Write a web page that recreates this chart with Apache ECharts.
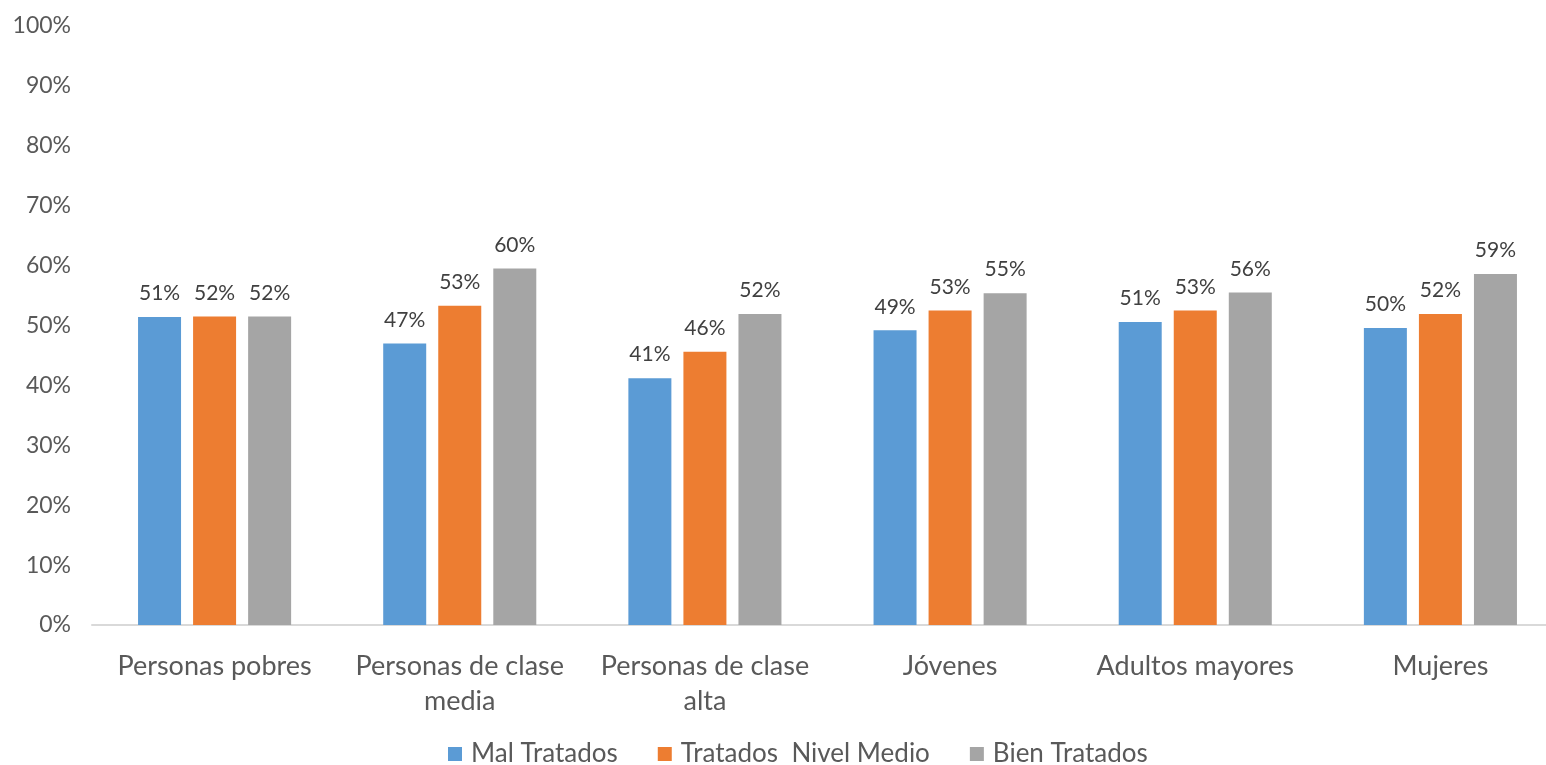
<!DOCTYPE html>
<html>
<head>
<meta charset="utf-8">
<script src="https://cdn.jsdelivr.net/npm/echarts@6/dist/echarts.min.js"></script>
<style>html,body{margin:0;padding:0;background:#fff;}#c{width:1546px;height:765px;}</style>
</head>
<body>
<div id="c"></div>
<script>
const categories = ['Personas pobres', 'Personas de clase\nmedia', 'Personas de clase\nalta', 'Jóvenes', 'Adultos mayores', 'Mujeres'];
const seriesNames = ['Mal Tratados', 'Tratados  Nivel Medio', 'Bien Tratados'];
const malTratados = [51.4, 47.0, 41.2, 49.2, 50.6, 49.6];
const nivelMedio = [51.5, 53.3, 45.6, 52.5, 52.5, 51.9];
const bienTratados = [51.5, 59.5, 51.9, 55.4, 55.5, 58.6];
const colors = ['#5B9BD5', '#ED7D31', '#A5A5A5'];
const FONT = 'Lato';

const chart = echarts.init(document.getElementById('c'), null, {renderer: 'canvas'});
function mk(name, data, color) {
  return {
    name: name, type: 'bar', data: data, barWidth: 43, barGap: '28%',
    itemStyle: {color: color},
    label: {show: true, position: 'top', distance: 13, color: '#404040', fontSize: 21, fontFamily: FONT,
      formatter: p => Math.round(p.value) + '%'}
  };
}
chart.setOption({
  animation: false,
  textStyle: {fontFamily: FONT},
  grid: {left: 92, width: 1471, top: 26, height: 599, containLabel: false, outerBoundsMode: 'none'},
  legend: {
    top: 736, left: 443, itemWidth: 14, itemHeight: 14, itemGap: 40,
    icon: 'rect', textStyle: {color: '#595959', fontSize: 26, fontFamily: FONT, padding: [0, 0, 0, 4]},
    data: seriesNames
  },
  xAxis: {
    type: 'category', data: categories,
    axisLine: {lineStyle: {color: '#D9D9D9', width: 2}},
    axisTick: {show: false},
    axisLabel: {color: '#595959', fontSize: 27, fontFamily: FONT, margin: 24, lineHeight: 35, interval: 0}
  },
  yAxis: {
    type: 'value', min: 0, max: 100, interval: 10,
    axisLine: {show: false}, axisTick: {show: false},
    splitLine: {show: false},
    axisLabel: {color: '#595959', fontSize: 23, fontFamily: FONT, margin: 21, formatter: v => v + '%'}
  },
  series: [mk(seriesNames[0], malTratados, colors[0]), mk(seriesNames[1], nivelMedio, colors[1]), mk(seriesNames[2], bienTratados, colors[2])]
});
</script>
</body>
</html>
